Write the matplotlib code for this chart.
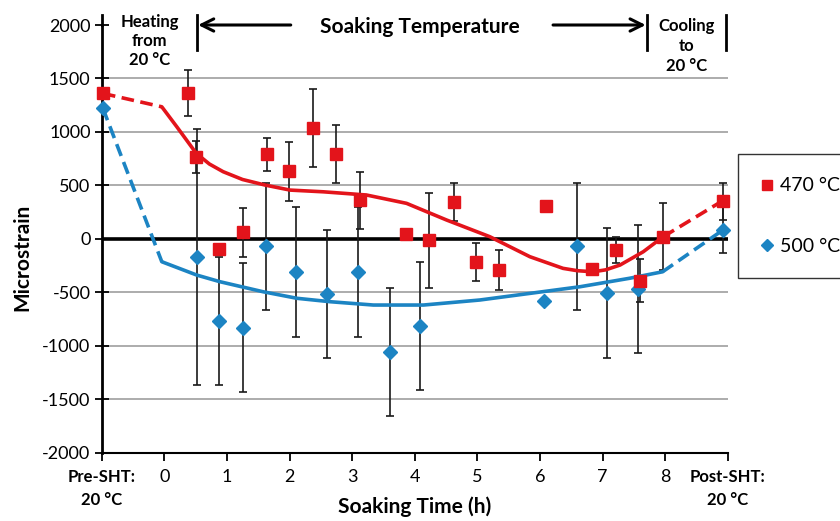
import numpy as np
import matplotlib
matplotlib.use('Agg')
import matplotlib.pyplot as plt
import matplotlib.transforms as transforms
from matplotlib.lines import Line2D

plt.rcParams['font.family'] = ['Lato', 'DejaVu Sans']
plt.rcParams['axes.unicode_minus'] = False

# measured points (x = soaking time in h, Pre-SHT at -1, Post-SHT at 9)
red_x = np.array([-0.98, 0.38, 0.51, 0.88, 1.25, 1.64, 1.99, 2.37, 2.74, 3.12, 3.86,
                  4.23, 4.62, 4.98, 5.35, 6.10, 6.84, 7.22, 7.60, 7.96, 8.93])
red_y = np.array([1360, 1360, 765, -95, 60, 790, 630, 1035, 790, 360, 50,
                  -15, 345, -215, -290, 305, -285, -105, -390, 20, 350])
red_err = np.array([0, 215, 150, 0, 230, 155, 275, 365, 272, 265, 0,
                    440, 180, 175, 190, 0, 0, 125, 200, 312, 175])

blue_x = np.array([-0.98, 0.52, 0.88, 1.25, 1.62, 2.10, 2.60, 3.10, 3.61, 4.08,
                   6.07, 6.59, 7.07, 7.57, 8.93])
blue_y = np.array([1220, -170, -770, -830, -70, -310, -515, -310, -1055, -815,
                   -580, -70, -505, -470, 85])
blue_err = np.array([0, 1200, 600, 600, 595, 605, 598, 610, 600, 597,
                     0, 597, 605, 598, 215])

# trend curves
red_fit_x = [-0.04, 0.2, 0.51, 0.72, 0.94, 1.25, 1.61, 2.01, 2.54, 3.23, 3.87, 4.51,
             5.2, 5.84, 6.37, 6.6, 6.85, 7.05, 7.28, 7.65, 7.97]
red_fit_y = [1235, 1048, 800, 700, 628, 555, 503, 456, 440, 410, 332, 176,
             20, -167, -276, -298, -308, -290, -245, -121, 20]
red_heat_x = [-0.98, -0.04]
red_heat_y = [1360, 1235]
red_cool_x = [7.97, 8.93]
red_cool_y = [20, 360]

blue_fit_x = [-0.04, 0.52, 0.89, 1.58, 2.12, 2.65, 3.34, 4.14, 5.04, 5.84,
              6.64, 7.43, 7.96]
blue_fit_y = [-214, -339, -401, -495, -556, -588, -619, -619, -572, -510,
              -448, -369, -308]
blue_heat_x = [-0.98, -0.04]
blue_heat_y = [1220, -214]
blue_cool_x = [7.96, 8.93]
blue_cool_y = [-308, 85]

x_ticks = list(range(-1, 10))
x_labels = ['Pre-SHT:\n20 °C', '0', '1', '2', '3', '4', '5', '6', '7', '8', 'Post-SHT:\n20 °C']
y_ticks = list(range(-2000, 2001, 500))

RED = '#e3141b'
BLUE = '#1c84c3'

W, H = 840, 521


def fy(px):
    return 1 - px / H


fig = plt.figure(figsize=(8.4, 5.21), dpi=100)
ax = fig.add_axes([101.7 / W, 1 - 452.7 / H, 626 / W, (452.7 - 25) / H])
ax.set_xlim(-1, 9)
ax.set_ylim(-2000, 2000)

for g in [-1500, -1000, -500, 500, 1000, 1500]:
    ax.axhline(g, color='#a6a6a6', lw=1.3, zorder=1)
ax.axhline(0, color='black', lw=2.6, zorder=2)

for s in ['top', 'right']:
    ax.spines[s].set_visible(False)
ax.spines['left'].set_linewidth(2)
ax.spines['bottom'].set_linewidth(1.5)

ax.set_yticks(y_ticks)
ax.tick_params(axis='y', direction='inout', length=10, width=1.3, labelsize=13, pad=3)
ax.set_xticks(x_ticks)
ax.set_xticklabels(x_labels)
ax.tick_params(axis='x', direction='out', length=6, width=1.3, labelsize=13, pad=6)
for i in [0, -1]:
    t = ax.get_xticklabels()[i]
    t.set_fontweight('bold')
    t.set_fontsize(12)
    t.set_linespacing(1.5)

# error bars
m = red_err > 0
ax.errorbar(red_x[m], red_y[m], yerr=red_err[m], fmt='none', ecolor='#1a1a1a',
            elinewidth=1.2, capsize=3, capthick=1.2, zorder=3)
m = blue_err > 0
ax.errorbar(blue_x[m], blue_y[m], yerr=blue_err[m], fmt='none', ecolor='#1a1a1a',
            elinewidth=1.2, capsize=3, capthick=1.2, zorder=3)

# trend curves
dash = (0, (3.5, 1.8))
ax.plot(red_fit_x, red_fit_y, color=RED, lw=2.6, zorder=4, solid_capstyle='round',
        solid_joinstyle='round')
ax.plot(red_heat_x, red_heat_y, color=RED, lw=2.6, ls=dash, zorder=4)
ax.plot(red_cool_x, red_cool_y, color=RED, lw=2.6, ls=dash, zorder=4)
ax.plot(blue_fit_x, blue_fit_y, color=BLUE, lw=2.6, zorder=4, solid_capstyle='round',
        solid_joinstyle='round')
ax.plot(blue_heat_x, blue_heat_y, color=BLUE, lw=2.6, ls=dash, zorder=4)
ax.plot(blue_cool_x, blue_cool_y, color=BLUE, lw=2.6, ls=dash, zorder=4)

# markers
ax.plot(blue_x, blue_y, 'D', color=BLUE, ms=7.5, ls='none', zorder=5, clip_on=False)
ax.plot(red_x, red_y, 's', color=RED, ms=8, ls='none', zorder=6, clip_on=False)

# legend
handles = [Line2D([], [], marker='s', ls='none', color=RED, ms=7, label='470 °C'),
           Line2D([], [], marker='D', ls='none', color=BLUE, ms=6.5, label='500 °C')]
leg = fig.legend(handles=handles, loc='upper left', bbox_to_anchor=(738 / W, fy(154)),
                 frameon=True, fontsize=14, labelspacing=2.25, borderpad=1.2,
                 handlelength=0.6, handletextpad=0.35, borderaxespad=0,
                 fancybox=False, edgecolor='black')
leg.get_frame().set_linewidth(1.0)

# stage annotations above the plot
trans = transforms.blended_transform_factory(ax.transData, fig.transFigure)
ax.plot([-1, -1], [fy(15), fy(25)], transform=trans, color='black', lw=2, clip_on=False)
for xv in [0.52, 7.71, 8.97]:
    ax.plot([xv, xv], [fy(15), fy(50)], transform=trans, color='black', lw=2, clip_on=False)
ax.annotate('', xy=(0.54, fy(25)), xytext=(2.02, fy(25)), xycoords=trans, textcoords=trans,
            arrowprops=dict(arrowstyle='->', lw=2.2, color='black', mutation_scale=22,
                            shrinkA=0, shrinkB=0))
ax.annotate('', xy=(7.69, fy(25)), xytext=(6.21, fy(25)), xycoords=trans, textcoords=trans,
            arrowprops=dict(arrowstyle='->', lw=2.2, color='black', mutation_scale=22,
                            shrinkA=0, shrinkB=0))
ax.text(4.08, fy(27), 'Soaking Temperature', transform=trans, ha='center', va='center',
        fontsize=15, fontweight='bold')
ax.text(-0.23, fy(41), 'Heating\nfrom\n20 °C', transform=trans, ha='center', va='center',
        fontsize=12, fontweight='bold', linespacing=1.25)
ax.text(8.34, fy(46), 'Cooling\nto\n20 °C', transform=trans, ha='center', va='center',
        fontsize=12, fontweight='bold', linespacing=1.3)

fig.text(415 / W, fy(507), 'Soaking Time (h)', ha='center', va='center',
         fontsize=15, fontweight='bold')
fig.text(22 / W, fy(257), 'Microstrain', rotation=90, ha='center', va='center',
         fontsize=15, fontweight='bold')

fig.savefig('out.png', dpi=100)
